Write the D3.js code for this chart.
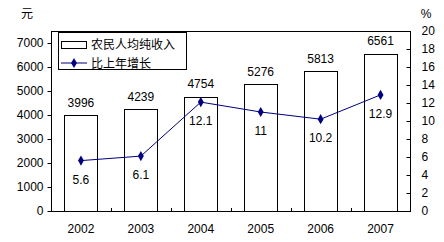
<!DOCTYPE html>
<html>
<head>
<meta charset="utf-8">
<script src="https://cdn.jsdelivr.net/npm/d3@7.9.0/dist/d3.min.js"></script>
<style>
  body { margin: 0; background: #fff; }
  svg { display: block; }
  text { font-family: "Liberation Sans", Arial, sans-serif; font-size: 12px; fill: #000; }
  .cjk { font-family: "Noto Sans CJK SC", sans-serif; font-size: 12px; }
</style>
</head>
<body>
<div id="chart"></div>
<script>
const years = ["2002", "2003", "2004", "2005", "2006", "2007"];
const income = [3996, 4239, 4754, 5276, 5813, 6561];
const growth = [5.6, 6.1, 12.1, 11, 10.2, 12.9];
const leftTicks = [0, 1000, 2000, 3000, 4000, 5000, 6000, 7000];
const rightTicks = [0, 2, 4, 6, 8, 10, 12, 14, 16, 18, 20];

const width = 444;
const height = 242;
const margin = { top: 31, right: 33.5, bottom: 31, left: 51 };

const usableArea = {
  top: margin.top,
  right: width - margin.right,
  bottom: height - margin.bottom,
  left: margin.left,
  width: width - margin.left - margin.right,
  height: height - margin.top - margin.bottom,
};

const svg = d3.select('#chart')
  .append('svg')
  .attr('width', width)
  .attr('height', height);

const xScale = d3.scaleBand()
  .domain(years)
  .range([usableArea.left, usableArea.right])
  .paddingInner(0.45)
  .paddingOuter(0.225);

const yScale = d3.scaleLinear()
  .domain([0, 7500])
  .range([usableArea.bottom, usableArea.top]);

const y2Scale = d3.scaleLinear()
  .domain([0, 20])
  .range([usableArea.bottom, usableArea.top]);

const cx = d => xScale(d) + xScale.bandwidth() / 2;

// plot frame
svg.append('rect')
  .attr('x', usableArea.left + 0.5)
  .attr('y', usableArea.top + 0.5)
  .attr('width', usableArea.width - 0.5)
  .attr('height', usableArea.height)
  .attr('fill', 'none')
  .attr('stroke', '#000');

// bars
svg.append('g')
  .selectAll('rect')
  .data(income)
  .join('rect')
  .attr('x', (d, i) => Math.round(xScale(years[i])) + 0.5)
  .attr('y', d => Math.round(yScale(d)) + 0.5)
  .attr('width', Math.round(xScale.bandwidth()))
  .attr('height', d => usableArea.bottom - Math.round(yScale(d)))
  .attr('fill', '#fff')
  .attr('stroke', '#000');

// bar labels
svg.append('g')
  .selectAll('text')
  .data(income)
  .join('text')
  .attr('x', (d, i) => cx(years[i]))
  .attr('y', d => yScale(d) - 8.5)
  .attr('text-anchor', 'middle')
  .text(d => d);

// left axis
const leftAxis = svg.append('g')
  .attr('transform', `translate(${usableArea.left + 0.5}, 0)`)
  .call(d3.axisLeft(yScale).tickValues(leftTicks).tickSize(4).tickPadding(4).tickFormat(d3.format('d')));
leftAxis.select('.domain').remove();
leftAxis.selectAll('text').style('font-size', '12px').style('font-family', '"Liberation Sans", Arial, sans-serif');

// right axis (ticks point inward)
const rightAxis = svg.append('g')
  .attr('transform', `translate(${usableArea.right}, 0)`)
  .call(d3.axisRight(y2Scale).tickValues(rightTicks).tickSize(0).tickPadding(11));
rightAxis.select('.domain').remove();
rightAxis.selectAll('text').style('font-size', '12px').style('font-family', '"Liberation Sans", Arial, sans-serif');
rightAxis.selectAll('.tick')
  .append('line')
  .attr('x1', -4)
  .attr('x2', 0)
  .attr('stroke', '#000');

// bottom axis
const bottomAxis = svg.append('g')
  .attr('transform', `translate(0, ${usableArea.bottom + 0.5})`)
  .call(d3.axisBottom(xScale).tickSize(0).tickPadding(13));
bottomAxis.select('.domain').remove();
bottomAxis.selectAll('text').style('font-size', '12px').style('font-family', '"Liberation Sans", Arial, sans-serif');
const step = xScale.step();
svg.append('g')
  .selectAll('line')
  .data(years.slice(1))
  .join('line')
  .attr('x1', (d, i) => Math.round(usableArea.left + step * (i + 1)) + 0.5)
  .attr('x2', (d, i) => Math.round(usableArea.left + step * (i + 1)) + 0.5)
  .attr('y1', usableArea.bottom)
  .attr('y2', usableArea.bottom - 3)
  .attr('stroke', '#000');

// growth line
const line = d3.line()
  .x((d, i) => cx(years[i]))
  .y(d => y2Scale(d));

svg.append('path')
  .datum(growth)
  .attr('d', line)
  .attr('fill', 'none')
  .attr('stroke', '#000080')
  .attr('stroke-width', 1);

const diamond = d3.symbol().type(d3.symbolDiamond).size(30);

svg.append('g')
  .selectAll('path')
  .data(growth)
  .join('path')
  .attr('transform', (d, i) => `translate(${cx(years[i])}, ${y2Scale(d)})`)
  .attr('d', diamond)
  .attr('fill', '#000080');

svg.append('g')
  .selectAll('text')
  .data(growth)
  .join('text')
  .attr('x', (d, i) => cx(years[i]))
  .attr('y', d => y2Scale(d) + 23)
  .attr('text-anchor', 'middle')
  .text(d => d);

// unit labels
svg.append('text').attr('class', 'cjk').attr('x', 27).attr('y', 18).attr('text-anchor', 'middle').text('元');
svg.append('text').attr('x', 426).attr('y', 18).attr('text-anchor', 'middle').text('%');

// legend
const legend = svg.append('g');
legend.append('rect')
  .attr('x', 58.5).attr('y', 32.5)
  .attr('width', 128).attr('height', 37)
  .attr('fill', '#fff').attr('stroke', '#000');

legend.append('rect')
  .attr('x', 61.5).attr('y', 41.5)
  .attr('width', 25).attr('height', 7)
  .attr('fill', '#fff').attr('stroke', '#000');

legend.append('line')
  .attr('x1', 61).attr('x2', 87)
  .attr('y1', 63).attr('y2', 63)
  .attr('stroke', '#000080');
legend.append('path')
  .attr('transform', 'translate(74, 63)')
  .attr('d', diamond)
  .attr('fill', '#000080');

legend.append('text').attr('class', 'cjk').attr('x', 91).attr('y', 49).text('农民人均纯收入');
legend.append('text').attr('class', 'cjk').attr('x', 91).attr('y', 67.5).text('比上年增长');
</script>
</body>
</html>
